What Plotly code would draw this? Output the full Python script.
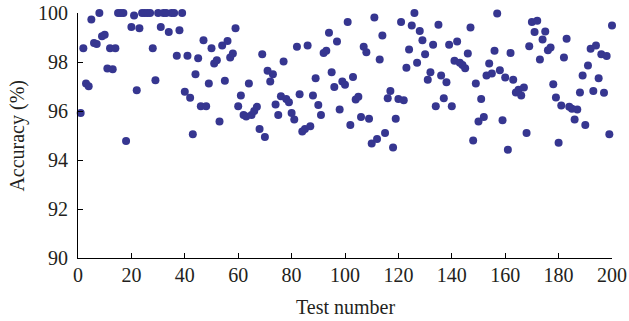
import plotly.graph_objects as go

test_number = list(range(1, 201))
accuracy = [
    95.92, 98.56, 97.12, 97.01, 99.73, 98.78, 98.73, 100.0, 99.05, 99.11,
    97.73, 98.56, 97.70, 98.56, 100.0, 100.0, 100.0, 94.78, 100.05, 99.43,
    99.90, 96.85, 99.38, 100.0, 100.0, 100.0, 100.0, 98.56, 97.26, 100.0,
    99.43, 100.0, 100.0, 99.22, 100.0, 100.0, 98.26, 99.30, 100.0, 96.79,
    98.26, 96.54, 95.05, 97.50, 98.15, 96.19, 98.89, 96.19, 97.12, 98.56,
    97.94, 98.07, 95.57, 98.67, 97.23, 98.86, 98.18, 98.35, 99.38, 96.19,
    96.63, 95.84, 95.78, 97.12, 95.84, 96.00, 96.17, 95.27, 98.32, 94.94,
    97.64, 97.20, 97.50, 96.27, 95.84, 96.60, 98.02, 96.49, 96.36, 95.92,
    95.65, 98.62, 96.68, 95.16, 95.27, 98.67, 95.38, 96.63, 97.34, 96.25,
    95.84, 98.37, 98.46, 99.19, 97.58, 96.98, 98.84, 96.06, 97.20, 97.07,
    99.63, 95.43, 97.39, 96.47, 96.58, 95.76, 98.62, 98.40, 95.68, 94.67,
    99.82, 94.86, 98.10, 99.08, 95.10, 96.52, 96.82, 94.51, 95.68, 96.49,
    99.63, 96.44, 97.77, 98.51, 99.49, 100.0, 97.97, 99.27, 98.89, 98.32,
    97.28, 97.58, 98.70, 96.19, 99.52, 97.45, 96.52, 97.17, 98.70, 96.19,
    98.05, 98.84, 97.97, 97.88, 97.75, 98.35, 99.41, 94.80, 97.12, 95.57,
    96.49, 95.76, 97.45, 97.94, 97.53, 98.46, 99.98, 97.66, 95.62, 97.37,
    94.42, 98.37, 97.28, 96.76, 96.87, 96.63, 96.96, 95.10, 98.64, 99.63,
    99.22, 99.68, 98.10, 98.92, 99.24, 98.48, 98.59, 97.09, 96.55, 94.70,
    96.22, 98.18, 98.95, 96.17, 96.09, 95.65, 96.06, 96.76, 97.45, 95.43,
    97.86, 98.54, 96.82, 98.67, 97.34, 98.32, 96.74, 98.24, 95.05, 99.49,
]
x_ticks = [0, 20, 40, 60, 80, 100, 120, 140, 160, 180, 200]
y_ticks = [90, 92, 94, 96, 98, 100]
x_title = "Test number"
y_title = "Accuracy (%)"

font_family = "Liberation Serif, DejaVu Serif, serif"
text_color = "#231f20"

fig = go.Figure(go.Scatter(
    x=test_number, y=accuracy, mode="markers",
    marker=dict(color="#363690", size=8, line=dict(width=0)),
    cliponaxis=False,
))

axis_common = dict(
    showgrid=False, zeroline=False, showline=True, linecolor="black", linewidth=1,
    ticks="inside", ticklen=5, tickcolor="black", mirror=False, automargin=False,
    tickfont=dict(family=font_family, size=20, color=text_color),
)

fig.update_layout(
    width=629, height=321,
    margin=dict(l=78, r=17, t=13, b=63),
    paper_bgcolor="white", plot_bgcolor="white",
    showlegend=False,
    font=dict(family=font_family, size=20, color=text_color),
    xaxis=dict(range=[0, 200], tickvals=x_ticks, ticklabelstandoff=-1, **axis_common),
    yaxis=dict(range=[90, 100], tickvals=y_ticks, ticklabelstandoff=5, **axis_common),
    annotations=[
        dict(text=x_title, xref="paper", yref="paper", x=0.5, y=-0.199,
             xanchor="center", yanchor="middle", showarrow=False,
             font=dict(family=font_family, size=20, color=text_color)),
        dict(text=y_title, xref="paper", yref="paper", x=-0.114, y=0.5,
             xanchor="center", yanchor="middle", showarrow=False, textangle=-90,
             font=dict(family=font_family, size=20, color=text_color)),
    ],
)

fig.write_html(
    "out.html",
    config={"displayModeBar": False},
    post_script="document.body.style.margin='0';document.body.style.overflow='hidden';",
)
